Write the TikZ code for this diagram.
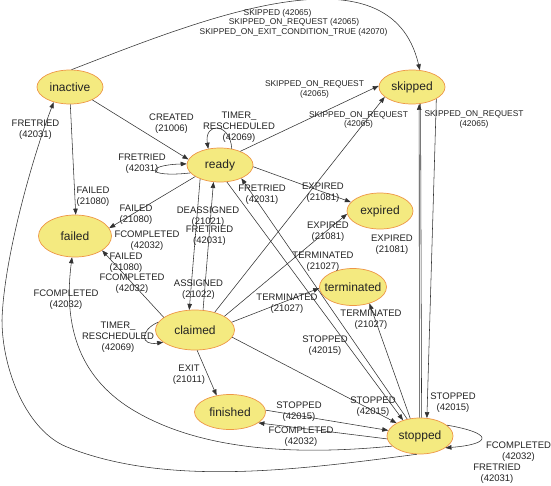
\documentclass[tikz,border=0pt]{standalone}
\usepackage{fontspec}
\setmainfont{Liberation Sans}
\usetikzlibrary{shapes.geometric,arrows.meta}
\definecolor{stfill}{RGB}{244,234,128}
\definecolor{stborder}{RGB}{238,150,70}
\definecolor{linec}{RGB}{50,50,50}
\definecolor{txt}{RGB}{35,35,35}
\tikzset{
  st/.style={ellipse, draw=stborder, fill=stfill, line width=0.7pt, inner sep=0pt},
  every label/.style={font=\fontsize{12}{14}\selectfont, text=txt, inner sep=0pt},
  edge/.style={draw=linec, line width=0.55pt},
  arr/.style={edge, -{Triangle[length=6pt,width=4.5pt]}},
  lbl/.style={font=\fontsize{9.5}{11}\selectfont, text=txt, align=center, inner sep=0pt},
  slbl/.style={font=\fontsize{8.4}{9.5}\selectfont, text=txt, align=center, inner sep=0pt}
}
\begin{document}
\begin{tikzpicture}[x=1pt,y=1pt]
\useasboundingbox[fill=white] (0,0) rectangle (551,-485);
% states
\node[st, minimum width=66pt, minimum height=34pt, label={center:inactive}] (inactive) at (70,-87) {};
\node[st, minimum width=66pt, minimum height=34pt, label={center:skipped}] (skipped) at (412,-87) {};
\node[st, minimum width=66pt, minimum height=34pt, label={center:ready}] (ready) at (220,-165) {};
\node[st, minimum width=73pt, minimum height=42pt, label={center:failed}] (failed) at (75,-236) {};
\node[st, minimum width=66pt, minimum height=36pt, label={center:expired}] (expired) at (380,-211) {};
\node[st, minimum width=67pt, minimum height=37pt, label={center:terminated}] (terminated) at (353,-287) {};
\node[st, minimum width=79pt, minimum height=40pt, label={center:claimed}] (claimed) at (195,-330) {};
\node[st, minimum width=71pt, minimum height=35pt, label={center:finished}] (finished) at (230,-412) {};
\node[st, minimum width=66pt, minimum height=36pt, label={center:stopped}] (stopped) at (420,-436) {};
% curved connectors
\draw[arr] (inactive.85) .. controls (200,-20) and (390,58) .. (skipped.65);
\draw[arr] (stopped.-100) .. controls (297,-470) and (167,-487) .. (67,-447)
   .. controls (27,-431) and (2,-370) .. (2,-320)
   .. controls (4,-255) and (35,-150) .. (inactive.-137);
\draw[arr] (stopped.200) .. controls (300,-455) and (203,-452) .. (133,-410)
   .. controls (75,-375) and (64,-320) .. (failed.-98);
\draw[arr] (stopped.22) .. controls (493,-433) and (493,-444) .. (stopped.-25);
\draw[arr] (ready.54) .. controls (230,-122) and (204,-122) .. (ready.126);
\draw[arr] (ready.195) .. controls (145,-178) and (145,-165) .. (ready.178);
\draw[arr] (claimed.168) .. controls (140,-330) and (140,-346) .. (claimed.201);
% straight connectors
\draw[arr] (inactive.-30) -- (ready.170);
\draw[arr] (inactive.-89) -- (failed.88);
\draw[arr] (ready.34) -- (skipped.178);
\draw[arr] (ready.-3) -- (expired.163);
\draw[arr] (ready.205) -- (failed.13);
\draw[arr] (ready.215) -- (claimed.106);
\draw[arr] (claimed.68) -- (ready.-111);
\draw[arr] (ready.-68) -- (stopped.137);
\draw[arr] (stopped.127) -- (ready.-32);
\draw[arr] (claimed.42) -- (skipped.200);
\draw[arr] (claimed.25) -- (expired.185);
\draw[arr] (claimed.12) -- (terminated.182);
\draw[arr] (claimed.-11) -- (stopped.151);
\draw[arr] (claimed.-84) -- (finished.129);
\draw[arr] (claimed.158) -- (failed.-28);
\draw[arr] (finished.3) -- (stopped.170);
\draw[arr] (stopped.185) -- (finished.-21);
\draw[arr] (skipped.-26) -- (stopped.69);
\draw[arr] (stopped.92) -- (skipped.-67);
\draw[edge] (stopped.85) -- (skipped.-63);
\draw[arr] (stopped.119) -- (terminated.-45);
% labels
\node[slbl] (s4a) at (277.5,-13) {SKIPPED (42065)};
\node[slbl] (s4b) at (294,-22) {SKIPPED\_ON\_REQUEST (42065)};
\node[slbl] (s4c) at (293.5,-32) {SKIPPED\_ON\_EXIT\_CONDITION\_TRUE (42070)};
\node[slbl] (s1) at (314.5,-89.5) {SKIPPED\_ON\_REQUEST\\(42065)};
\node[slbl] (s2) at (358.5,-120) {SKIPPED\_ON\_REQUEST\\(42065)};
\node[slbl] (s3) at (474,-119.5) {SKIPPED\_ON\_REQUEST\\(42065)};
\node[lbl] (l1) at (171.5,-123.5) {CREATED\\(21006)};
\node[lbl] (l2) at (239,-127) {TIMER\_\\RESCHEDULED\\(42069)};
\node[lbl] (l3) at (142,-164) {FRETRIED\\(42031)};
\node[lbl] (l4) at (35.5,-129.5) {FRETRIED\\(42031)};
\node[lbl] (l5) at (93,-196.5) {FAILED\\(21080)};
\node[lbl] (l6) at (136,-215) {FAILED\\(21080)};
\node[lbl] (l7) at (147,-240.5) {FCOMPLETED\\(42032)};
\node[lbl] (l8) at (126,-263) {FAILED\\(21080)};
\node[lbl] (l9) at (132,-283.5) {FCOMPLETED\\(42032)};
\node[lbl] (l10) at (66,-299.5) {FCOMPLETED\\(42032)};
\node[lbl] (l11) at (208,-216.5) {DEASSIGNED\\(21021)};
\node[lbl] (l12) at (209.5,-236) {FRETRIED\\(42031)};
\node[lbl] (l13) at (198.5,-290) {ASSIGNED\\(21022)};
\node[lbl] (l14) at (118,-337) {TIMER\_\\RESCHEDULED\\(42069)};
\node[lbl] (l15) at (189,-374.5) {EXIT\\(21011)};
\node[lbl] (l16) at (262,-194.5) {FRETRIED\\(42031)};
\node[lbl] (l17) at (323,-193) {EXPIRED\\(21081)};
\node[lbl] (l18) at (328,-232) {EXPIRED\\(21081)};
\node[lbl] (l19) at (392,-245) {EXPIRED\\(21081)};
\node[lbl] (l20) at (323,-262) {TERMINATED\\(21027)};
\node[lbl] (l21) at (287,-303.5) {TERMINATED\\(21027)};
\node[lbl] (l22) at (371,-319.5) {TERMINATED\\(21027)};
\node[lbl] (l23) at (325,-346) {STOPPED\\(42015)};
\node[lbl] (l24) at (299,-411.5) {STOPPED\\(42015)};
\node[lbl] (l25) at (373,-407) {STOPPED\\(42015)};
\node[lbl] (l26) at (453,-403) {STOPPED\\(42015)};
\node[lbl] (l27) at (301,-436.5) {FCOMPLETED\\(42032)};
\node[lbl] (l28) at (518.5,-452) {FCOMPLETED\\(42032)};
\node[lbl] (l29) at (497,-473.5) {FRETRIED\\(42031)};
\end{tikzpicture}
\end{document}
